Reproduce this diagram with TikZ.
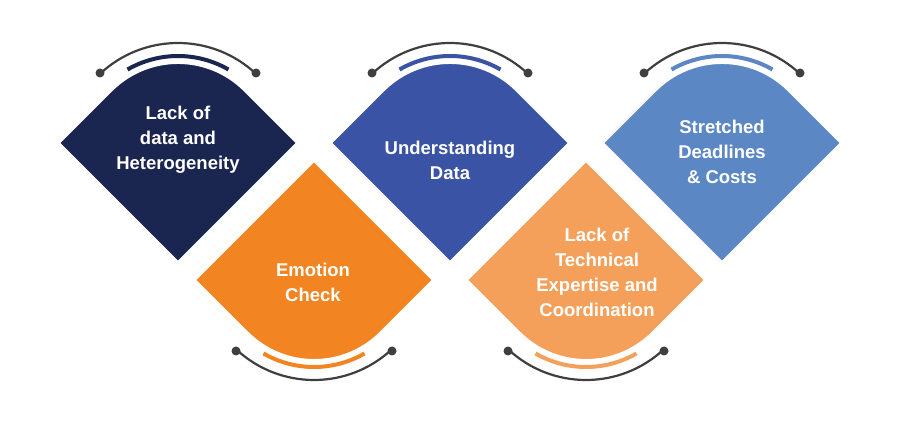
\documentclass[tikz,border=0pt]{standalone}
\usepackage{fontspec}
\setmainfont{Liberation Sans}
\definecolor{cA}{HTML}{1A2550}
\definecolor{cB}{HTML}{F28522}
\definecolor{cC}{HTML}{3A53A4}
\definecolor{cD}{HTML}{F5A05A}
\definecolor{cE}{HTML}{5B87C5}
\definecolor{gr}{HTML}{3F3F3F}
\begin{document}
\begin{tikzpicture}[x=1pt,y=-1pt,
  lbl/.style={text=white,font=\bfseries\fontsize{18.5}{25}\selectfont,align=center},
  shp/.style={draw=white,line width=2pt},
  garc/.style={gr,line width=2.2pt},
  dot/.style={gr,fill=gr}]
\useasboundingbox (0,0) rectangle (900,427);
\foreach \cx/\col in {178/cA,450/cC,722/cE}{
  \fill[\col,shp] (\cx-119,143) -- (\cx,262) -- (\cx+119,143) -- (\cx+66.5,90.5) arc[start angle=-45,end angle=-135,radius=94] -- cycle;
  \draw[\col,line width=4pt] (\cx,157) ++(-60:101) arc[start angle=-60,end angle=-120,radius=101];
  \draw[garc] (\cx,157) ++(-47:114) arc[start angle=-47,end angle=-133,radius=114];
  \fill[dot] (\cx-78,73) circle (4.5);
  \fill[dot] (\cx+78,73) circle (4.5);
}
\foreach \cx/\col in {314/cB,586/cD}{
  \fill[\col,shp] (\cx-119,280) -- (\cx,161) -- (\cx+119,280) -- (\cx+66.5,332.5) arc[start angle=45,end angle=135,radius=94] -- cycle;
  \draw[\col,line width=4pt] (\cx,266) ++(60:101) arc[start angle=60,end angle=120,radius=101];
  \draw[garc] (\cx,266) ++(47:114) arc[start angle=47,end angle=133,radius=114];
  \fill[dot] (\cx-78,351) circle (4.5);
  \fill[dot] (\cx+78,351) circle (4.5);
}
\node[lbl] (t1) at (178,140) {Lack of\\data and\\Heterogeneity};
\node[lbl] (t2) at (313,282) {Emotion\\Check};
\node[lbl] (t3) at (450,160) {Understanding\\Data};
\node[lbl] (t4) at (597,272) {Lack of\\Technical\\Expertise and\\Coordination};
\node[lbl] (t5) at (722,152) {Stretched\\Deadlines\\\& Costs};
\end{tikzpicture}
\end{document}
